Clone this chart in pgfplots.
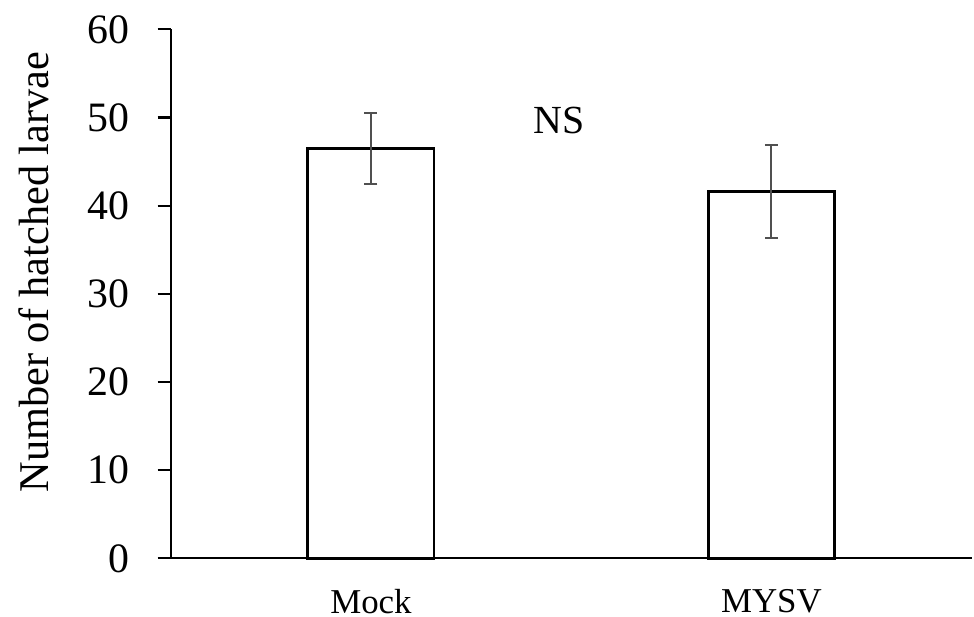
\documentclass[border=0pt]{standalone}
\usepackage{pgfplots}
\pgfplotsset{compat=1.18}
\usepackage{fontspec}
\setmainfont{Liberation Serif}
\definecolor{errgray}{RGB}{80,80,80}
\begin{document}
\begin{tikzpicture}
\begin{axis}[
  scale only axis, width=801bp, height=529bp,
  xmin=-0.5, xmax=1.5, ymin=0, ymax=60,
  ytick={0,10,20,30,40,50,60},
  xtick={0,1}, xticklabels={Mock,MYSV},
  axis lines*=left,
  axis line style={line width=2.2bp, black, -},
  tick align=outside,
  major tick length=13bp,
  y tick style={line width=2.2bp, black},
  x tick style={draw=none},
  /pgf/number format/assume math mode=true,
  yticklabel style={font=\fontsize{42}{42}\selectfont, anchor=east, inner sep=0pt, xshift=-27.7bp},
  xticklabel style={font=\fontsize{35}{35}\selectfont, anchor=north, inner sep=0pt, yshift=-18bp},
  ylabel={Number of hatched larvae},
  ylabel style={font=\fontsize{42.5}{42.5}\selectfont, at={(rel axis cs:0,0.541)}, anchor=center, yshift=136.7bp},
  ybar, bar width=0.315,
  clip=false,
]
\addplot[draw=black, line width=2.8bp, fill=white,
  error bars/.cd, y dir=both, y explicit,
  error bar style={line width=2bp, errgray},
  error mark options={rotate=90, mark size=6.5bp, line width=2bp, errgray}]
  coordinates {(0,46.5) +- (0,4.0) (1,41.6) +- (0,5.25)};
\node[font=\fontsize{40}{40}\selectfont] at (axis cs:0.47,49.6) {NS};
\end{axis}
\pgfresetboundingbox
\path[use as bounding box] (-170.7bp,-58.7bp) rectangle (803.3bp,558.3bp);
\end{tikzpicture}
\end{document}
